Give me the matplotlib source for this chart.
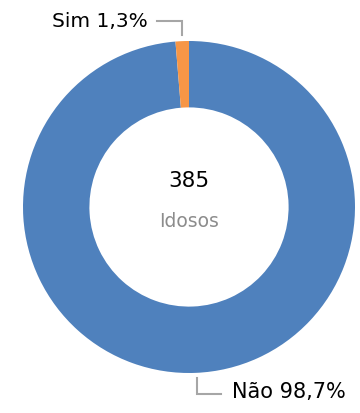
import matplotlib.pyplot as plt

# chart data
labels = ['Não', 'Sim']
values = [98.7, 1.3]
colors = ['#4F81BD', '#F79646']
total = '385'
center_label = 'Idosos'

W, H = 360, 414
cx, cy, R = 189, 208, 166  # pixel geometry of the donut

fig = plt.figure(figsize=(W / 100, H / 100), dpi=100)
ax = fig.add_axes([0, 0, 1, 1])
ax.axis('off')

# donut, clockwise from the top
ax.pie(values, colors=colors, startangle=90, counterclock=False,
       radius=1, wedgeprops=dict(width=0.40, edgecolor='none'))
ax.set_aspect('auto')
ax.set_xlim(-cx / R, (W - cx) / R)
ax.set_ylim(-(H - cy) / R, cy / R)


def px(x, y):
    # convert pixel position into data coordinates
    return (x - cx) / R, (cy - y) / R


line_kw = dict(color='#A6A6A6', lw=1.5, solid_joinstyle='miter')

# label for Sim
x1, y1 = px(157, 22)
x2, y2 = px(182, 22)
x3, y3 = px(182, 36)
ax.plot([x1, x2, x3], [y1, y2, y3], **line_kw)
tx, ty = px(148, 22)
ax.text(tx, ty, f'{labels[1]} {values[1]:.1f}%'.replace('.', ','),
        ha='right', va='center', fontsize=14.5, color='black')

# label for Não
x1, y1 = px(197, 379)
x2, y2 = px(197, 395)
x3, y3 = px(221, 395)
ax.plot([x1, x2, x3], [y1, y2, y3], **line_kw)
tx, ty = px(232, 392)
ax.text(tx, ty, f'{labels[0]} {values[0]:.1f}%'.replace('.', ','),
        ha='left', va='center', fontsize=15, color='black')

# centre text
tx, ty = px(189, 181)
ax.text(tx, ty, total, ha='center', va='center', fontsize=15.5, color='black')
tx, ty = px(189, 222)
ax.text(tx, ty, center_label, ha='center', va='center', fontsize=13.5, color='#8C8C8C')

fig.savefig('out.png', dpi=100)
